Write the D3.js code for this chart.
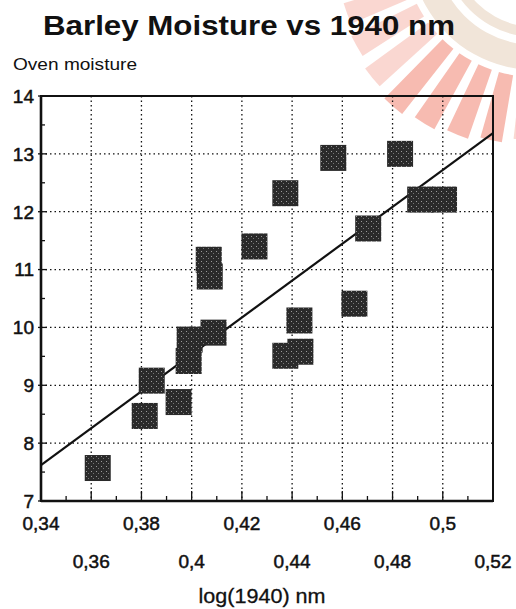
<!DOCTYPE html>
<html>
<head>
<meta charset="utf-8">
<script src="https://cdn.jsdelivr.net/npm/d3@7"></script>
<style>
  body { margin: 0; background: #fff; }
  svg { display: block; font-family: "Liberation Sans", Arial, Helvetica, sans-serif; }
</style>
</head>
<body>
<svg id="chart"></svg>
<script>
// log(1940) absorbance vs oven moisture
const absorb = [0.3626, 0.3813, 0.3841, 0.3948, 0.3988, 0.3992, 0.4087, 0.4068, 0.4072, 0.425,
  0.4373, 0.4564, 0.483, 0.491, 0.5005, 0.4703, 0.4648, 0.4429, 0.4373, 0.4433];
const moisture = [7.57, 8.47, 9.08, 8.71, 9.42, 9.79, 9.91, 11.17, 10.88, 11.40,
  12.32, 12.93, 13.0, 12.21, 12.21, 11.71, 10.41, 10.12, 9.51, 9.58];

// fitted line end points
const fitX = [0.34, 0.52];
const fitY = [7.62, 13.36];

const xTicks = [0.34, 0.36, 0.38, 0.40, 0.42, 0.44, 0.46, 0.48, 0.50, 0.52];
const xTickLabels = ["0,34", "0,36", "0,38", "0,4", "0,42", "0,44", "0,46", "0,48", "0,5", "0,52"];
const yTicks = [7, 8, 9, 10, 11, 12, 13, 14];

const width = 516, height = 609;
const svg = d3.select("#chart").attr("width", width).attr("height", height);

const x = d3.scaleLinear().domain([0.34, 0.52]).range([41, 493]);
const y = d3.scaleLinear().domain([7, 14]).range([501, 96]);

// texture for the scanned squares
const defs = svg.append("defs");
const pat = defs.append("pattern")
  .attr("id", "dots").attr("width", 5).attr("height", 5)
  .attr("patternUnits", "userSpaceOnUse");
pat.append("rect").attr("width", 5).attr("height", 5).attr("fill", "#2a2a2a");
pat.append("rect").attr("x", 1).attr("y", 1).attr("width", 1).attr("height", 1).attr("fill", "#9a9a9a");
pat.append("rect").attr("x", 3).attr("y", 3).attr("width", 1).attr("height", 1).attr("fill", "#777");

// watermark (logo ring + rays), faint, behind everything
const wm = svg.append("g").attr("transform", "translate(535,-55)");
const arc = d3.arc();
[[125, 100], [92, 82]].forEach(([ro, ri]) => {
  wm.append("path")
    .attr("d", arc({ innerRadius: ri, outerRadius: ro, startAngle: Math.PI * 0.9, endAngle: Math.PI * 1.6 }))
    .attr("fill", "#f1e5d9");
});
d3.range(8).forEach(i => {
  const a0 = Math.PI * (1.0 + i * 0.053);
  wm.append("path")
    .attr("d", arc({ innerRadius: 132, outerRadius: 215 - Math.abs(i - 4) * 5, startAngle: a0, endAngle: a0 + 0.11 }))
    .attr("fill", i > 0 && i < 5 ? "#f5aa9e" : "#f9cdc5")
    .attr("opacity", 0.8);
});

// dotted grid
const grid = svg.append("g")
  .attr("stroke", "#111").attr("stroke-width", 1.3)
  .attr("stroke-dasharray", "1.5,3");
grid.selectAll("line.v")
  .data(xTicks.slice(1, -1))
  .join("line")
  .attr("class", "v")
  .attr("x1", d => x(d)).attr("x2", d => x(d))
  .attr("y1", y(14)).attr("y2", y(7));
grid.selectAll("line.h")
  .data(yTicks.slice(1, -1))
  .join("line")
  .attr("class", "h")
  .attr("x1", x(0.34)).attr("x2", x(0.52))
  .attr("y1", d => y(d)).attr("y2", d => y(d));

// minor and major ticks on the axes
const ticks = svg.append("g").attr("stroke", "#111").attr("stroke-width", 1.3);
ticks.selectAll("line.xm")
  .data(d3.range(0.35, 0.52, 0.02))
  .join("line")
  .attr("x1", d => x(d)).attr("x2", d => x(d))
  .attr("y1", y(7)).attr("y2", y(7) - 5);
ticks.selectAll("line.xM")
  .data(xTicks)
  .join("line")
  .attr("x1", d => x(d)).attr("x2", d => x(d))
  .attr("y1", y(7)).attr("y2", y(7) - 10);
ticks.selectAll("line.ym")
  .data(d3.range(7.5, 14, 1))
  .join("line")
  .attr("x1", x(0.34)).attr("x2", x(0.34) + 4)
  .attr("y1", d => y(d)).attr("y2", d => y(d));
ticks.selectAll("line.yM")
  .data(yTicks)
  .join("line")
  .attr("x1", x(0.34) - 3).attr("x2", x(0.34) + 6)
  .attr("y1", d => y(d)).attr("y2", d => y(d));

// frame
svg.append("rect")
  .attr("x", x(0.34)).attr("y", y(14))
  .attr("width", x(0.52) - x(0.34)).attr("height", y(7) - y(14))
  .attr("fill", "none").attr("stroke", "#111").attr("stroke-width", 2);
svg.append("line")
  .attr("x1", x(0.34)).attr("x2", x(0.52)).attr("y1", y(7)).attr("y2", y(7))
  .attr("stroke", "#111").attr("stroke-width", 2.6);
svg.append("line")
  .attr("x1", x(0.34)).attr("x2", x(0.34)).attr("y1", y(14)).attr("y2", y(7))
  .attr("stroke", "#111").attr("stroke-width", 2.6);

// fitted line
svg.append("line")
  .attr("x1", x(fitX[0])).attr("y1", y(fitY[0]))
  .attr("x2", x(fitX[1])).attr("y2", y(fitY[1]))
  .attr("stroke", "#111").attr("stroke-width", 2.2);

// squares
const sq = 26;
svg.append("g").selectAll("rect")
  .data(absorb.map((a, i) => [a, moisture[i]]))
  .join("rect")
  .attr("x", d => x(d[0]) - sq / 2)
  .attr("y", d => y(d[1]) - sq / 2)
  .attr("width", sq).attr("height", sq)
  .attr("fill", "url(#dots)");

// tick labels
const lab = { fill: "#111", stroke: "#111", sw: 0.5 };
svg.append("g").selectAll("text")
  .data(yTicks)
  .join("text")
  .attr("x", 34).attr("y", d => y(d))
  .attr("dy", "0.36em")
  .attr("text-anchor", "end")
  .attr("font-size", 19)
  .attr("fill", lab.fill).attr("stroke", lab.stroke).attr("stroke-width", lab.sw)
  .text(d => d);

svg.append("g").selectAll("text")
  .data(xTicks)
  .join("text")
  .attr("x", d => x(d))
  .attr("y", (d, i) => i % 2 === 0 ? 530 : 568)
  .attr("text-anchor", "middle")
  .attr("font-size", 19)
  .attr("fill", lab.fill).attr("stroke", lab.stroke).attr("stroke-width", lab.sw)
  .text((d, i) => xTickLabels[i]);

// titles
svg.append("text")
  .attr("x", 249).attr("y", 35)
  .attr("text-anchor", "middle")
  .attr("font-size", 28).attr("font-weight", "bold")
  .attr("textLength", 412).attr("lengthAdjust", "spacingAndGlyphs")
  .attr("fill", "#111")
  .text("Barley Moisture vs 1940 nm");

svg.append("text")
  .attr("x", 13).attr("y", 70)
  .attr("font-size", 17)
  .attr("textLength", 124).attr("lengthAdjust", "spacingAndGlyphs")
  .attr("fill", "#111")
  .text("Oven moisture");

svg.append("text")
  .attr("x", 262).attr("y", 603)
  .attr("text-anchor", "middle")
  .attr("font-size", 20)
  .attr("textLength", 127).attr("lengthAdjust", "spacingAndGlyphs")
  .attr("fill", "#111").attr("stroke", "#111").attr("stroke-width", 0.3)
  .text("log(1940) nm");
</script>
</body>
</html>
